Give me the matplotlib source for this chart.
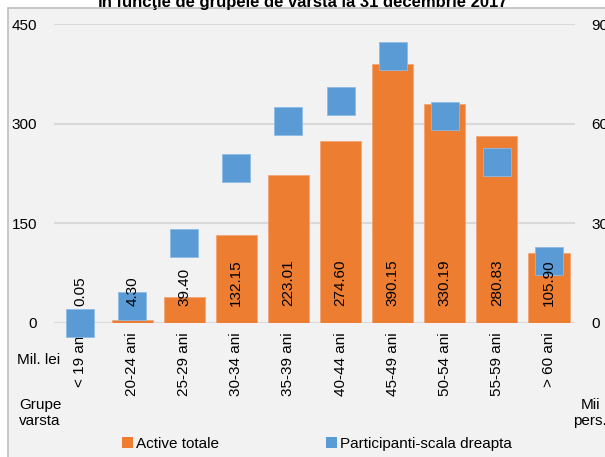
import matplotlib
matplotlib.use("Agg")
import matplotlib.pyplot as plt
from matplotlib.patches import Rectangle, Patch

plt.rcParams['font.family'] = ['Liberation Sans', 'DejaVu Sans']

grupe = ["< 19 ani", "20-24 ani", "25-29 ani", "30-34 ani", "35-39 ani",
         "40-44 ani", "45-49 ani", "50-54 ani", "55-59 ani", "> 60 ani"]
active = [0.05, 4.30, 39.40, 132.15, 223.01, 274.60, 390.15, 330.19, 280.83, 105.90]
participanti = [0, 51, 241, 468, 607, 669, 805, 622, 486, 187]

orange = "#ED7D31"
blue = "#5B9BD5"
W, H = 605, 457
fs = 11

fig = plt.figure(figsize=(W / 100, H / 100), dpi=100)
fig.patch.set_facecolor("white")

# chart area box (extends past right/bottom edge)
fig.patches.append(Rectangle((8 / W, -0.1), 1.2, 1 - 8 / H + 0.1, transform=fig.transFigure,
                             facecolor="#F2F2F2", edgecolor="#BFBFBF", lw=1.2, zorder=-5))

# title, cut off by the top edge
fig.text(0.5, 1 - 6.5 / H, "în funcţie de grupele de vârstă la 31 decembrie 2017",
         ha="center", va="baseline", fontsize=12, fontweight="bold")

ax = fig.add_axes([54 / W, (H - 323) / H, (575 - 54) / W, (323 - 24) / H])
ax.set_facecolor("none")
x = list(range(len(grupe)))
ax.bar(x, active, width=0.79, color=orange, edgecolor="#F4A574", lw=0.6, zorder=2)
ax.set_ylim(0, 450)
ax.set_xlim(-0.5, len(grupe) - 0.5)
ax.set_yticks([0, 150, 300, 450])
ax.grid(axis="y", color="#D9D9D9", lw=1.5, zorder=0)
ax.set_axisbelow(True)
ax.set_xticks(x)
ax.set_xticklabels(grupe, rotation=90, fontsize=fs)
ax.tick_params(axis="both", length=0, labelsize=fs)
ax.tick_params(axis="y", pad=12)
ax.tick_params(axis="x", pad=7)
for s in ax.spines.values():
    s.set_visible(False)

ax2 = ax.twinx()
ax2.set_ylim(0, 900)
ax2.set_yticks([0, 300, 600, 900])
ax2.tick_params(axis="y", length=0, pad=12, labelsize=fs)
for s in ax2.spines.values():
    s.set_visible(False)
ax2.plot(x, participanti, linestyle="none", marker="s", markersize=20, clip_on=False,
         markerfacecolor=blue, markeredgecolor="#8DBBE3", markeredgewidth=0.6, zorder=3)

for xi, v in zip(x, active):
    ax2.text(xi, 25, f"{v:.2f}", transform=ax.transData, rotation=90,
             ha="center", va="bottom", fontsize=fs, zorder=5)

fig.text(17 / W, (H - 360) / H, "Mil. lei", ha="left", va="center", fontsize=fs)
fig.text(19 / W, (H - 413) / H, "Grupe\nvarsta", ha="left", va="center", fontsize=fs,
         linespacing=1.1)
fig.text(590 / W, (H - 413) / H, "Mii\npers.", ha="center", va="center", fontsize=fs,
         linespacing=1.1)

handles = [Patch(facecolor=orange, edgecolor="none"), Patch(facecolor=blue, edgecolor="none")]
fig.legend(handles, ["Active totale", "Participanti-scala dreapta"], ncol=2,
           loc="center", bbox_to_anchor=(317 / W, (H - 444) / H), frameon=False,
           fontsize=fs, handlelength=0.7, handleheight=0.7, handletextpad=0.2,
           columnspacing=7.0, borderpad=0)

fig.savefig("out.png", dpi=100)
